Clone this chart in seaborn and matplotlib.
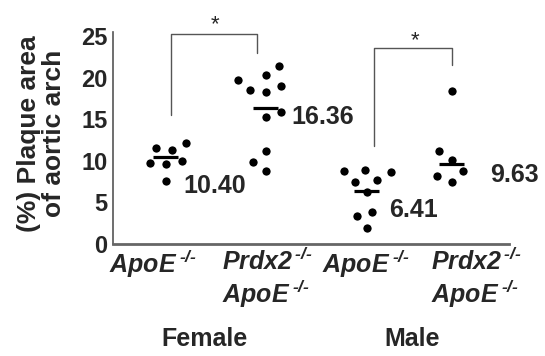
import matplotlib.pyplot as plt
import pandas as pd
import seaborn as sns
from matplotlib.transforms import ScaledTranslation

# 主动脉弓斑块面积 (%)，按组读数
groups = ["F_ApoE", "F_Prdx2_ApoE", "M_ApoE", "M_Prdx2_ApoE"]
female_apoe = [11.54, 12.14, 11.33, 9.62, 9.74, 9.93, 7.52]
female_prdx2_apoe = [19.75, 20.35, 21.35, 18.27, 18.55, 18.94, 15.82, 15.26, 11.13, 9.86, 8.81]
male_apoe = [7.64, 8.85, 8.61, 8.73, 7.40, 6.20, 3.80, 3.32, 1.92]
male_prdx2_apoe = [18.34, 10.05, 11.13, 7.45, 8.73, 8.21]
means = [10.40, 16.36, 6.41, 9.63]

apoe = r"$\mathit{ApoE}^{\,\text{-/-}}$"
prdx2 = r"$\mathit{Prdx2}^{\,\text{-/-}}$"
tick_labels = [apoe, prdx2 + "\n" + apoe, apoe, prdx2 + "\n" + apoe]
sex_labels = ["Female", "Male"]
yticks = [0, 5, 10, 15, 20, 25]

# 布局 (x 轴用像素式坐标)
xpos = [166, 266, 367, 452]
label_dx = [-13, 1, -1, 24]
mean_dx = [17, 25, 22, 38]
mean_dy = [-3.4, -1.16, -2.3, -1.3]
sex_x = [205, 412]

values = [female_apoe, female_prdx2_apoe, male_apoe, male_prdx2_apoe]
df = pd.DataFrame(
    {
        "group": [g for g, v in zip(groups, values) for _ in v],
        "value": [x for v in values for x in v],
    }
)
df["x"] = df["group"].map(dict(zip(groups, xpos)))

sns.set_style("white")
plt.rcParams["font.family"] = ["Liberation Sans", "DejaVu Sans"]
plt.rcParams["mathtext.fontset"] = "custom"
plt.rcParams["mathtext.it"] = "Liberation Sans:italic:bold"
plt.rcParams["mathtext.rm"] = "Liberation Sans:italic:bold"
plt.rcParams["mathtext.bf"] = "Liberation Sans:bold"

fig = plt.figure(figsize=(5.45, 3.56), dpi=100)
ax = fig.add_axes([0.2073, 0.3146, 0.7266, 0.5963])

# 白边只用于拉开点距，黑色实心直径约 6pt
sns.swarmplot(
    data=df, x="x", y="value", native_scale=True, orient="x",
    color="black", size=8.5, edgecolor="white", linewidth=2.5, ax=ax,
)

# 均值线和数值
for x, m, dx, dy in zip(xpos, means, mean_dx, mean_dy):
    ax.hlines(m, x - 12.5, x + 12.5, color="black", lw=2.3, zorder=5)
    ax.text(x + dx, m + dy, f"{m:.2f}", ha="left", va="center",
            fontsize=18, fontweight="bold")

# 显著性括号
grey = "#555555"
ax.plot([171, 171, 256.7, 256.7], [15.54, 25.28, 25.28, 22.96],
        color=grey, lw=1, clip_on=False)
ax.plot([374, 374, 452.3, 452.3], [11.73, 23.5, 23.5, 21.55],
        color=grey, lw=1, clip_on=False)
ax.text(215.5, 25.65, "*", ha="center", va="baseline", fontsize=16, clip_on=False)
ax.text(415, 23.8, "*", ha="center", va="baseline", fontsize=16, clip_on=False)

ax.set_xlim(113, 509)
ax.set_ylim(0, 25.5)
ax.set_yticks(yticks)
ax.set_yticklabels([str(t) for t in yticks], fontsize=17, fontweight="bold")
ax.tick_params(axis="y", direction="in", length=5, width=1, color=grey, pad=4)

ax.set_xticks(xpos)
ax.set_xticklabels(tick_labels, fontsize=18, multialignment="left", linespacing=1.12)
ax.tick_params(axis="x", length=0, pad=3)
for tl, dx in zip(ax.get_xticklabels(), label_dx):
    tl.set_transform(tl.get_transform() + ScaledTranslation(dx / 100, 0, fig.dpi_scale_trans))

for sx, s in zip(sex_x, sex_labels):
    ax.text(sx, -0.447, s, transform=ax.get_xaxis_transform(), ha="center",
            va="center", fontsize=18, fontweight="bold")

ax.set_xlabel("")
ax.set_ylabel("(%) Plaque area\nof aortic arch", fontsize=19, fontweight="bold",
              linespacing=1.08)
ax.yaxis.label.set(va="center", ha="center")
ax.yaxis.set_label_coords(-0.18, 0.52)

sns.despine(ax=ax)
ax.spines["left"].set_color(grey)
ax.spines["left"].set_linewidth(1.2)
ax.spines["bottom"].set_color("#666666")
ax.spines["bottom"].set_linewidth(2)

fig.savefig("out.png", dpi=100)
